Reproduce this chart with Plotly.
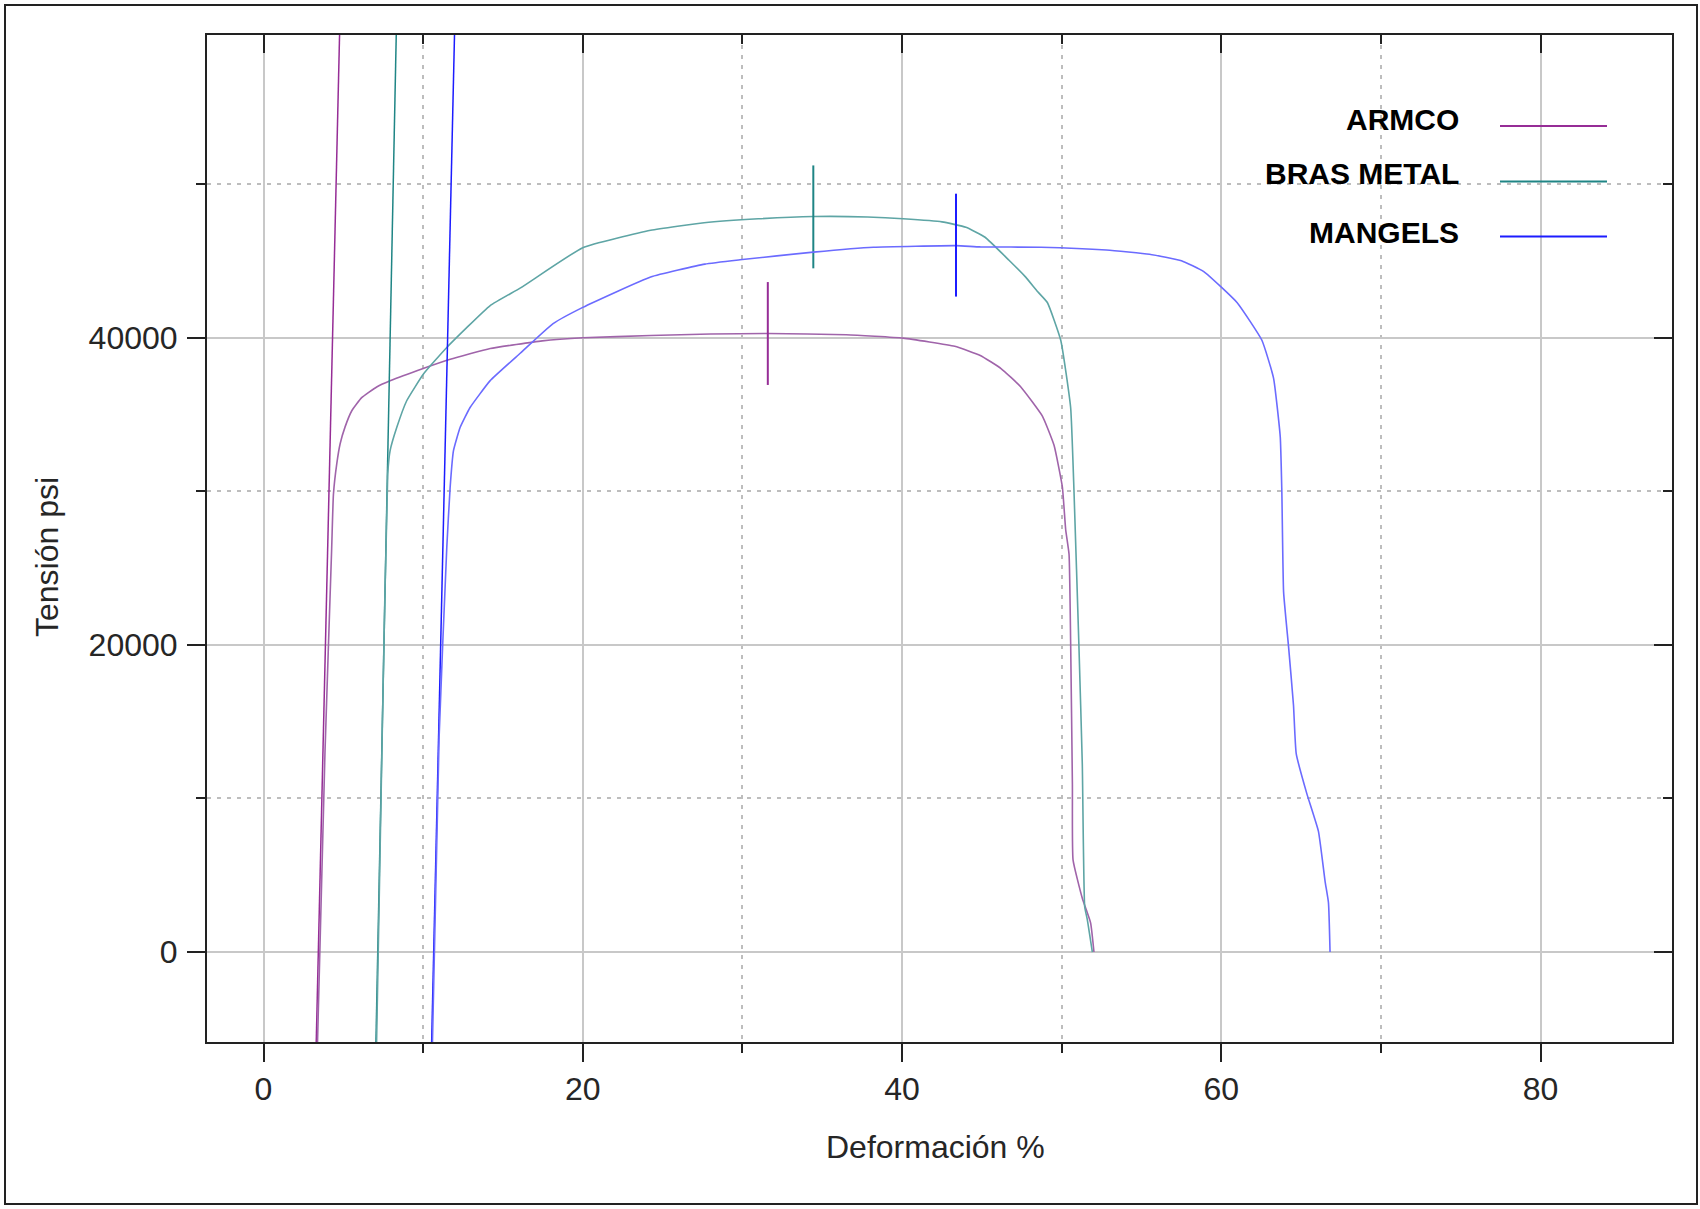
import plotly.graph_objects as go

# ---------------- data ----------------
materials = ["ARMCO", "BRAS METAL", "MANGELS"]

armco_x = [3.38, 3.85, 4.27, 4.38, 4.59, 4.80, 5.11, 5.53, 6.15, 7.09, 7.93, 10.0, 11.7, 14.2,
           17.46, 20.0, 24.25, 28.0, 31.6, 36.5, 40.06, 43.3, 44.9, 46.2, 47.44, 48.79, 49.52,
           50.04, 50.25, 50.46, 50.56, 50.67, 50.71, 51.29, 51.81, 52.02]
armco_y = [-6000, 13000, 26300, 29800, 31800, 33100, 34200, 35250, 36100, 36800, 37200, 38000,
           38600, 39300, 39800, 40000, 40150, 40250, 40280, 40200, 39980, 39450, 38850, 38000,
           36800, 34900, 33000, 30300, 27500, 25900, 20200, 10900, 6000, 3500, 1900, 0]

bras_x = [7.08, 7.45, 7.78, 7.93, 8.35, 8.97, 10.02, 11.48, 14.2, 16.1, 20.0, 24.25, 27.6, 31.0,
          34.44, 37.84, 40.06, 42.5, 44.0, 45.2, 46.7, 47.7, 48.5, 49.1, 49.94, 50.56, 50.77,
          51.08, 51.29, 51.44, 51.6, 51.92]
bras_y = [-6000, 15000, 31100, 32650, 34170, 35900, 37640, 39370, 42100, 43250, 45870, 47000,
          47490, 47750, 47900, 47870, 47750, 47550, 47200, 46550, 45050, 44000, 43000, 42300,
          39840, 35460, 30000, 19900, 12240, 2950, 2130, 0]

mangels_x = [10.58, 11.0, 11.48, 11.69, 11.9, 12.32, 12.94, 14.2, 16.1, 18.14, 20.0, 24.25, 27.65,
             29.85, 34.44, 38.2, 43.4, 44.9, 48.7, 52.8, 55.5, 57.5, 58.9, 60.98, 62.54, 63.27,
             63.69, 63.79, 63.9, 64.21, 64.52, 64.69, 65.35, 66.08, 66.5, 66.71, 66.81]
mangels_y = [-6000, 14000, 26340, 30250, 32650, 34170, 35460, 37210, 39010, 40920, 41980, 43960,
             44800, 45080, 45580, 45900, 46000, 45920, 45900, 45720, 45440, 45020, 44310, 42300,
             39840, 37380, 33550, 30000, 23440, 19890, 16070, 12920, 10330, 7870, 4590, 3220, 0]

# elastic (modulus) guide lines: strain at bottom / top of the stress window
modulus_x = [[3.30, 4.77], [7.04, 8.32], [10.53, 11.97]]
modulus_y = [-6000, 60000]

# tensile strength marks (strain, stress)
uts_x = [31.59, 34.44, 43.38]
uts_y = [40280, 47875, 46035]

x_ticks = [0, 20, 40, 60, 80]
x_ticktext = ["0", "20", "40", "60", "80"]
x_minor = [10, 30, 50, 70]
y_ticks = [0, 20000, 40000]
y_ticktext = ["0", "20000", "40000"]
y_minor = [10000, 30000, 50000]

x_title = "Deformación %"
y_title = "Tensión psi"

# ---------------- style ----------------
dark = ["#962d96", "#1f8585", "#1c1cff"]
light = ["#a064aa", "#5ea5a5", "#6b6bff"]
FONT = "Liberation Sans, Arial, sans-serif"
W, H = 1700, 1209
ML, MR, MT, MB = 207, 28, 35, 167
PW, PH = W - ML - MR, H - MT - MB


def px(x):
    return (x - ML) / PW


def py(y):
    return (H - MB - y) / PH


curves_x = [armco_x, bras_x, mangels_x]
curves_y = [armco_y, bras_y, mangels_y]

fig = go.Figure()
for i, name in enumerate(materials):
    fig.add_trace(go.Scatter(x=modulus_x[i], y=modulus_y, mode="lines",
                             line=dict(color=dark[i], width=1.5), showlegend=False,
                             hoverinfo="skip"))
    fig.add_trace(go.Scatter(x=curves_x[i], y=curves_y[i], mode="lines", name=name,
                             line=dict(color=light[i], width=1.6, shape="spline",
                                       smoothing=0.4), showlegend=False))
    fig.add_trace(go.Scatter(x=[uts_x[i]], y=[uts_y[i]], mode="markers", showlegend=False,
                             marker=dict(symbol="line-ns", size=73.5,
                                         line=dict(color=dark[i], width=2))))

axis_common = dict(showline=True, linecolor="#222222", linewidth=2, zeroline=False,
                   tickcolor="#222222", tickwidth=2, ticklen=18,
                   tickfont=dict(family=FONT, size=32, color="#262626"))

xr = [-3.54, 88.23]
yr = [-5860, 59720]

fig.update_layout(
    width=W, height=H, paper_bgcolor="white", plot_bgcolor="white",
    margin=dict(l=ML, r=MR, t=MT, b=MB, pad=0),
    showlegend=False,
    xaxis=dict(range=xr, tickmode="array", tickvals=x_ticks, ticktext=x_ticktext,
               ticks="outside", showgrid=True, gridcolor="#c8c8c8", gridwidth=1.5,
               ticklabelstandoff=0,
               minor=dict(tickmode="array", tickvals=x_minor, ticks="outside", ticklen=9,
                          tickwidth=2, tickcolor="#222222", showgrid=True,
                          gridcolor="#bdbdbd", gridwidth=1.5, griddash="4px,6px"),
               **axis_common),
    yaxis=dict(range=yr, tickmode="array", tickvals=y_ticks, ticktext=y_ticktext,
               ticks="outside", showgrid=True, gridcolor="#c8c8c8", gridwidth=1.5,
               ticklabelstandoff=3,
               minor=dict(tickmode="array", tickvals=y_minor, ticks="outside", ticklen=9,
                          tickwidth=2, tickcolor="#222222", showgrid=True,
                          gridcolor="#bdbdbd", gridwidth=1.5, griddash="4px,6px"),
               **axis_common),
    xaxis2=dict(range=xr, overlaying="x", anchor="y", side="top", tickmode="array",
                tickvals=x_ticks, ticks="inside", showticklabels=False, showgrid=False,
                minor=dict(tickmode="array", tickvals=x_minor, ticks="inside", ticklen=9,
                           tickwidth=2, tickcolor="#222222", showgrid=False),
                **axis_common),
    yaxis2=dict(range=yr, overlaying="y", anchor="x", side="right", tickmode="array",
                tickvals=y_ticks, ticks="inside", showticklabels=False, showgrid=False,
                minor=dict(tickmode="array", tickvals=y_minor, ticks="inside", ticklen=9,
                           tickwidth=2, tickcolor="#222222", showgrid=False),
                **axis_common),
)
# invisible trace so the mirror axes render
fig.add_trace(go.Scatter(x=[None], y=[None], xaxis="x2", yaxis="y2", showlegend=False))

annotations = [
    dict(text=x_title, xref="paper", yref="paper", x=px(935), y=py(1147),
         xanchor="center", yanchor="middle", showarrow=False,
         font=dict(family=FONT, size=32, color="#262626")),
    dict(text=y_title, xref="paper", yref="paper", x=px(47), y=py(557),
         xanchor="center", yanchor="middle", showarrow=False, textangle=-90,
         font=dict(family=FONT, size=32, color="#262626")),
]
shapes = []
leg_text_y = [120, 173, 232]
leg_line_y = [126, 181.5, 236.5]
for i, name in enumerate(materials):
    annotations.append(dict(text="<b>%s</b>" % name, xref="paper", yref="paper",
                            x=px(1461), y=py(leg_text_y[i]), xanchor="right",
                            yanchor="middle", showarrow=False,
                            font=dict(family=FONT, size=30, color="#000000")))
    shapes.append(dict(type="line", xref="paper", yref="paper",
                       x0=px(1500), x1=px(1607), y0=py(leg_line_y[i]), y1=py(leg_line_y[i]),
                       line=dict(color=dark[i], width=2)))
# outer frame
shapes.append(dict(type="rect", xref="paper", yref="paper", x0=px(5), x1=px(1697),
                   y0=py(1204), y1=py(5), line=dict(color="#222222", width=2),
                   fillcolor="rgba(0,0,0,0)", layer="above"))
fig.update_layout(annotations=annotations, shapes=shapes)

fig.write_html("out.html", config={"displayModeBar": False},
               post_script="document.body.style.margin='0';document.body.style.overflow='hidden';")
